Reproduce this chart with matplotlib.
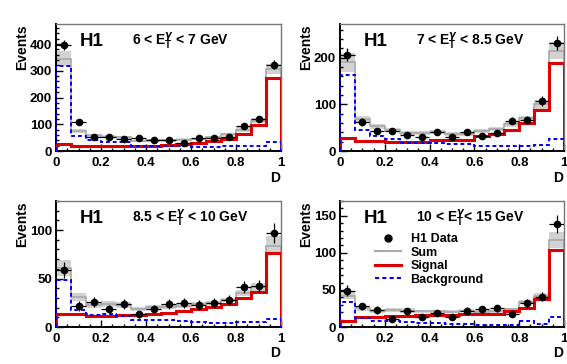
import numpy as np
import matplotlib
matplotlib.use("Agg")
import matplotlib.pyplot as plt
from matplotlib.ticker import MultipleLocator
from matplotlib.lines import Line2D

plt.rcParams['font.family'] = ['Liberation Sans', 'DejaVu Sans']
plt.rcParams['font.weight'] = 'bold'

edges = np.linspace(0, 1, 16)

titles = ["6 < E$_\\mathregular{T}^{\\gamma}$ < 7 GeV",
          "7 < E$_\\mathregular{T}^{\\gamma}$ < 8.5 GeV",
          "8.5 < E$_\\mathregular{T}^{\\gamma}$ < 10 GeV",
          "10 < E$_\\mathregular{T}^{\\gamma}$< 15 GeV"]

# Panel 1: 6 < ET < 7 GeV
data1 = [397, 108, 52, 53, 45, 48, 42, 41, 31, 48, 48, 52, 94, 120, 323]
derr1 = [20, 10, 7, 7, 7, 7, 7, 6, 6, 7, 7, 7, 10, 11, 18]
sig1 = [27, 20, 18, 18, 18, 18, 20, 22, 25, 30, 36, 45, 62, 96, 272]
bkg1 = [318, 56, 40, 35, 33, 20, 20, 18, 17, 15, 15, 18, 18, 18, 35]
serr1 = [28, 7, 6, 5, 5, 5, 5, 5, 5, 5, 5, 6, 8, 8, 20]

# Panel 2: 7 < ET < 8.5 GeV
data2 = [206, 62, 43, 43, 34, 31, 41, 31, 40, 32, 38, 65, 66, 107, 232]
derr2 = [14, 8, 7, 7, 6, 6, 6, 6, 6, 6, 6, 8, 8, 10, 15]
sig2 = [28, 22, 21, 20, 20, 20, 23, 23, 23, 32, 36, 46, 59, 88, 189]
bkg2 = [162, 46, 32, 25, 18, 18, 17, 14, 14, 11, 11, 11, 11, 12, 26]
serr2 = [20, 6, 5, 5, 4, 4, 4, 4, 4, 4, 4, 5, 6, 9, 18]

# Panel 3: 8.5 < ET < 10 GeV
data3 = [59, 22, 26, 19, 24, 13, 19, 24, 25, 23, 25, 28, 41, 42, 97]
derr3 = [8, 5, 5, 4, 5, 4, 4, 5, 5, 5, 5, 5, 6, 6, 10]
sig3 = [13, 13, 11, 11, 12, 12, 13, 14, 16, 19, 21, 24, 30, 36, 76]
bkg3 = [48, 18, 12, 13, 11, 7, 7.5, 7, 6, 5, 4, 4, 5, 5, 8]
serr3 = [8, 4, 3, 3, 3, 2, 2, 2, 2, 2, 2, 2, 3, 4, 10]

# Panel 4: 10 < ET < 15 GeV
data4 = [49, 28, 23, 11, 21, 14, 19, 14, 22, 24, 25, 17, 32, 41, 139]
derr4 = [7, 5, 5, 3, 5, 4, 4, 4, 5, 5, 5, 4, 6, 6, 12]
sig4 = [8.5, 13, 13, 15, 15, 16, 16, 16, 17.5, 18, 18, 21, 25.5, 37.6, 104]
bkg4 = [34, 12, 8.5, 7.6, 7, 5, 5, 4.5, 4.5, 2.7, 3, 3, 8, 4.5, 13]
serr4 = [5, 3, 3, 3, 3, 2, 2, 2, 2, 2, 2, 2, 3, 4, 11]

panels = [
    (data1, derr1, sig1, bkg1, serr1, 475, 100, 20),
    (data2, derr2, sig2, bkg2, serr2, 272, 100, 20),
    (data3, derr3, sig3, bkg3, serr3, 130, 50, 10),
    (data4, derr4, sig4, bkg4, serr4, 170, 50, 10),
]

W, H = 567, 364
fig = plt.figure(figsize=(W / 100, H / 100), dpi=100)

# axes pixel boxes: left, right, top, bottom
boxes = [(56, 281, 24, 151), (340, 564, 24, 151),
         (56, 281, 201, 327), (340, 564, 201, 327)]

centers = 0.5 * (edges[:-1] + edges[1:])
hw = 0.5 * (edges[1] - edges[0])

for i, (box, p) in enumerate(zip(boxes, panels)):
    l, r, t, b = box
    ax = fig.add_axes([l / W, (H - b) / H, (r - l) / W, (b - t) / H])
    data, derr, sig, bkg, serr, ymax, maj, mnr = p
    sig = np.array(sig, float)
    bkg = np.array(bkg, float)
    tot = sig + bkg
    serr = np.array(serr, float)

    # Sum uncertainty band
    ax.bar(centers, 2 * serr, width=2 * hw, bottom=tot - serr,
           color='#d2d2d2', edgecolor='none', zorder=1)
    ax.stairs(tot, edges, color='#a8a8a8', lw=1.2, zorder=2)
    ax.stairs(sig, edges, color='#dd0000', lw=2.2, zorder=3)
    ax.stairs(bkg, edges, color='#0000ff', lw=1.4, ls=(0, (2.0, 1.5)), zorder=4)
    ax.errorbar(centers, data, yerr=derr, xerr=hw * 0.95, fmt='o', color='black',
                ms=4.5, elinewidth=0.9, capsize=0, zorder=5)

    ax.set_xlim(0, 1)
    ax.set_ylim(0, ymax)
    ax.xaxis.set_minor_locator(MultipleLocator(0.05))
    ax.yaxis.set_major_locator(MultipleLocator(maj))
    ax.yaxis.set_minor_locator(MultipleLocator(mnr))
    ax.set_xticks([0, 0.2, 0.4, 0.6, 0.8, 1.0])
    ax.set_xticklabels(['0', '0.2', '0.4', '0.6', '0.8', '1'])
    ax.tick_params(which='both', direction='in', labelsize=9.5, width=1.0)
    ax.tick_params(which='major', length=5)
    ax.tick_params(which='minor', length=2.5)
    ax.tick_params(axis='x', pad=4)
    ax.tick_params(axis='y', pad=3)
    for lab in ax.get_xticklabels() + ax.get_yticklabels():
        lab.set_fontweight('bold')
    for s in ['left', 'bottom']:
        ax.spines[s].set_linewidth(1.4)
        ax.spines[s].set_color('black')
    for s in ['top', 'right']:
        ax.spines[s].set_linewidth(1.0)
        ax.spines[s].set_color('#777777')

    ax.text(0.105, 0.86, "H1", transform=ax.transAxes, fontsize=13.5,
            fontweight='bold', va='center', ha='left')
    ax.text(0.338, 0.86, titles[i], transform=ax.transAxes, fontsize=10,
            fontweight='bold', va='center', ha='left')

    # ROOT-style axis titles
    ax.text(-0.15, 1.0, "Events", transform=ax.transAxes, rotation=90,
            fontsize=10, fontweight='bold', va='top', ha='center')
    ax.text(0.975, -0.21, "D", transform=ax.transAxes, fontsize=10,
            fontweight='bold', va='center', ha='center')

    if i == 3:
        handles = [
            Line2D([], [], marker='o', color='black', ls='none', ms=5),
            Line2D([], [], color='#a8a8a8', lw=1.5),
            Line2D([], [], color='#dd0000', lw=2.2),
            Line2D([], [], color='#0000ff', lw=1.5, ls=(0, (2.0, 1.5))),
        ]
        leg = ax.legend(handles, ["H1 Data", "Sum", "Signal", "Background"],
                        loc='upper left', bbox_to_anchor=(0.156, 0.745),
                        frameon=False, fontsize=9, handlelength=2.1,
                        handletextpad=0.75, labelspacing=0.12,
                        borderaxespad=0, borderpad=0)
        for txt in leg.get_texts():
            txt.set_fontweight('bold')

fig.savefig("out.png", dpi=100)
